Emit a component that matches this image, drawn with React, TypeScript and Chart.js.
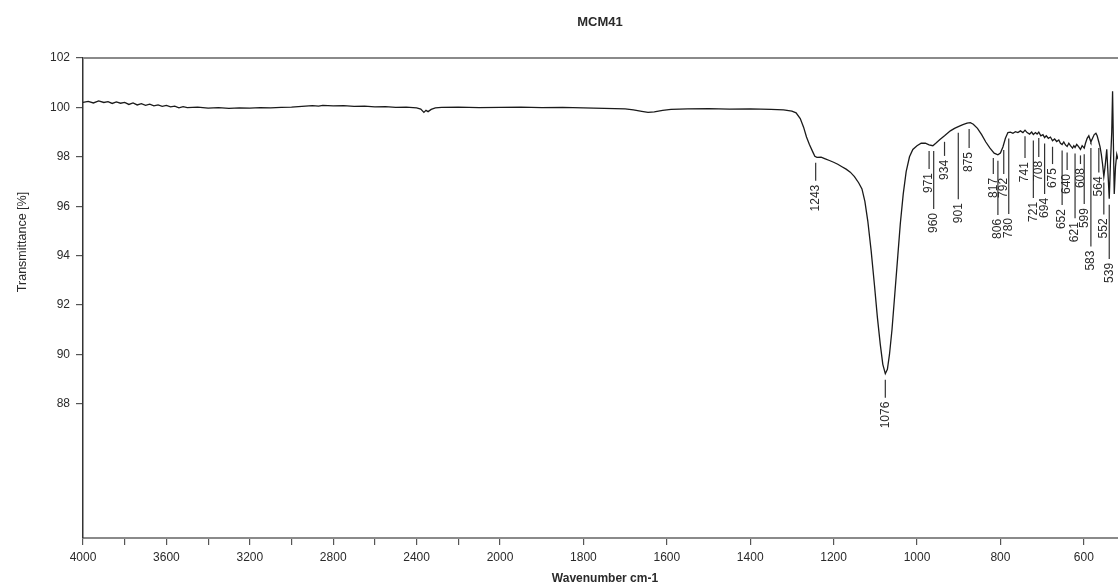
import React, { useEffect, useRef } from "react";
import { Chart, registerables } from "chart.js";

Chart.register(...registerables);

// ---- data ----
const wavenumbers = [
  4000, 3975, 3950, 3925, 3900, 3880, 3860, 3840, 3820, 3800, 3780, 3760, 3740, 3720, 3700, 3680, 3660, 3640, 3620, 3600,
  3580, 3560, 3540, 3520, 3500, 3450, 3400, 3350, 3300, 3250, 3200, 3150, 3100, 3050, 3000, 2950, 2900, 2870, 2850, 2800,
  2750, 2700, 2650, 2600, 2550, 2500, 2450, 2400, 2380, 2365, 2355, 2345, 2330, 2310, 2280, 2200, 2100, 2000, 1950, 1900,
  1850, 1800, 1750, 1700, 1680, 1660, 1645, 1630, 1610, 1590, 1550, 1500, 1450, 1400, 1350, 1320, 1300, 1290, 1280, 1272,
  1265, 1258, 1250, 1245, 1240, 1230, 1220, 1210, 1200, 1190, 1180, 1170, 1160, 1150, 1140, 1132, 1125, 1118, 1110, 1102,
  1095, 1088, 1082, 1076, 1071, 1066, 1060, 1053, 1046, 1040, 1033, 1026, 1018, 1010, 1000, 990, 980, 971, 962, 955,
  945, 934, 920, 910, 901, 890, 880, 872, 865, 855, 845, 835, 825, 815, 806, 800, 794, 788, 782, 776,
  770, 764, 758, 752, 746, 741, 736, 730, 725, 721, 716, 712, 708, 703, 698, 694, 690, 685, 680, 675,
  670, 665, 660, 656, 652, 648, 644, 640, 636, 632, 627, 624, 621, 617, 613, 608, 604, 599, 596, 592,
  588, 585, 583, 579, 575, 571, 568, 564, 561, 558, 555, 552, 549, 545, 541, 539, 536, 533, 531, 529,
  527, 524, 521, 518,
];
const transmittance = [
  100.2, 100.24, 100.18, 100.26, 100.2, 100.23, 100.16, 100.22, 100.17, 100.2, 100.12, 100.18, 100.1, 100.15, 100.08, 100.13, 100.06, 100.1, 100.04, 100.08,
  100.02, 100.05, 99.98, 100.03, 99.99, 100.01, 99.97, 99.99, 99.96, 99.98, 99.97, 99.99, 99.98, 100.0, 100.01, 100.04, 100.07, 100.05, 100.08, 100.06,
  100.07, 100.04, 100.05, 100.02, 100.03, 100.0, 100.01, 99.98, 99.93, 99.8, 99.88, 99.83, 99.92, 99.98, 100.0, 100.01, 99.99, 100.0, 100.01, 99.99,
  100.0, 99.98, 99.96, 99.94, 99.9, 99.84, 99.8, 99.82, 99.88, 99.92, 99.94, 99.95, 99.93, 99.94, 99.92, 99.9, 99.85, 99.78, 99.55, 99.2,
  98.8, 98.5, 98.2, 98.02, 97.98, 97.99, 97.92, 97.85, 97.78, 97.7, 97.6, 97.5, 97.38, 97.2, 96.95, 96.7, 96.2, 95.4, 94.2, 92.8,
  91.5, 90.4, 89.6, 89.22, 89.4, 90.0, 91.0, 92.5, 94.0, 95.3, 96.5, 97.4, 98.0, 98.3, 98.45, 98.55, 98.55, 98.48, 98.45, 98.55,
  98.7, 98.85, 99.05, 99.15, 99.22, 99.3, 99.36, 99.38, 99.32, 99.15, 98.9, 98.6, 98.35, 98.15, 98.08, 98.15, 98.4, 98.75, 98.98, 99.0,
  98.95, 99.02, 98.98, 99.05, 98.98, 99.08, 98.98, 98.92, 99.0, 98.9, 98.98, 98.92, 99.0, 98.85, 98.9, 98.78, 98.85, 98.75, 98.8, 98.65,
  98.72, 98.62, 98.68, 98.55, 98.5, 98.6, 98.48, 98.42, 98.55, 98.45, 98.35, 98.45, 98.38, 98.5, 98.42, 98.3, 98.45, 98.35, 98.55, 98.75,
  98.85, 98.7, 98.6, 98.75, 98.9, 98.95, 98.85, 98.6, 98.4, 98.1, 97.7, 97.2, 97.6, 98.3, 97.0, 96.3, 97.8, 99.0, 100.65, 98.5,
  96.5, 97.6, 98.1, 97.9,
];

const peakWavenumbers = [1243, 1076, 971, 960, 934, 901, 875, 817, 806, 792, 780, 741, 721, 708, 694, 675, 652, 640, 621, 608, 599, 583, 564, 552, 539];
// transmittance level at which each peak label's text is centred
const peakLabelLevel = [96.33, 87.55, 96.94, 95.32, 97.47, 95.72, 97.79, 96.74, 95.08, 96.74, 95.12, 97.38, 95.77, 97.43, 95.93, 97.14, 95.48, 96.9, 94.95, 97.14, 95.52, 93.8, 96.8, 95.1, 93.3];

const xTickValues = [4000, 3800, 3600, 3400, 3200, 3000, 2800, 2600, 2400, 2200, 2000, 1800, 1600, 1400, 1200, 1000, 800, 600];
const xTickLabels = [4000, 3600, 3200, 2800, 2400, 2000, 1800, 1600, 1400, 1200, 1000, 800, 600];
const yTickValues = [88, 90, 92, 94, 96, 98, 100, 102];

const chartTitle = "MCM41";
const xAxisTitle = "Wavenumber cm-1";
const yAxisTitle = "Transmittance [%]";

// axis scale is compressed by a factor 2 above 2000 cm-1
const toAxis = (w: number) => (w >= 2000 ? (4000 - w) / 2 : 1000 + (2000 - w));
const fromAxis = (u: number) => (u <= 1000 ? 4000 - 2 * u : 2000 - (u - 1000));

const curveAt = (w: number) => {
  for (let i = 0; i < wavenumbers.length - 1; i++) {
    const a = wavenumbers[i];
    const b = wavenumbers[i + 1];
    if (w <= a && w >= b) {
      const t = (a - w) / (a - b);
      return transmittance[i] + t * (transmittance[i + 1] - transmittance[i]);
    }
  }
  return transmittance[transmittance.length - 1];
};

const FONT = "'Liberation Sans', Arial, Helvetica, sans-serif";
const TEXT = "#2a2a2a";

const decorPlugin = {
  id: "decor",
  afterDraw(chart: any) {
    const { ctx, chartArea, scales } = chart;
    const xs = scales.x;
    const ys = scales.y;
    ctx.save();
    // top frame line
    ctx.strokeStyle = "#8a8a8a";
    ctx.lineWidth = 2;
    ctx.beginPath();
    ctx.moveTo(chartArea.left, chartArea.top);
    ctx.lineTo(chartArea.right, chartArea.top);
    ctx.stroke();

    // titles
    ctx.fillStyle = TEXT;
    ctx.textAlign = "center";
    ctx.textBaseline = "middle";
    ctx.font = `bold 13px ${FONT}`;
    ctx.fillText(chartTitle, 600, 22);
    ctx.font = `bold 12px ${FONT}`;
    ctx.fillText(xAxisTitle, 605, 579);
    ctx.save();
    ctx.translate(23, 242);
    ctx.rotate(-Math.PI / 2);
    ctx.font = `12.5px ${FONT}`;
    ctx.fillText(yAxisTitle, 0, 0);
    ctx.restore();

    // peak labels
    ctx.font = `12px ${FONT}`;
    ctx.strokeStyle = "#333";
    ctx.lineWidth = 1.2;
    peakWavenumbers.forEach((w, i) => {
      const px = xs.getPixelForValue(toAxis(w));
      const cy = ys.getPixelForValue(curveAt(w));
      const ty = ys.getPixelForValue(peakLabelLevel[i]);
      const label = String(w);
      const half = ctx.measureText(label).width / 2;
      const lineTop = cy + 6;
      const lineBottom = ty - half - 4;
      if (lineBottom > lineTop) {
        ctx.beginPath();
        ctx.moveTo(px, lineTop);
        ctx.lineTo(px, lineBottom);
        ctx.stroke();
      }
      ctx.save();
      ctx.translate(px, ty);
      ctx.rotate(-Math.PI / 2);
      ctx.fillStyle = TEXT;
      ctx.fillText(label, 0, 0);
      ctx.restore();
    });
    ctx.restore();
  },
};

export default function App() {
  const ref = useRef<HTMLCanvasElement | null>(null);
  useEffect(() => {
    document.body.style.margin = "0";
    const canvas = ref.current;
    if (!canvas) return;
    const chart = new Chart(canvas, {
      type: "line",
      data: {
        datasets: [
          {
            data: wavenumbers.map((w, i) => ({ x: toAxis(w), y: transmittance[i] })),
            borderColor: "#1a1a1a",
            borderWidth: 1.3,
            pointRadius: 0,
            tension: 0,
            fill: false,
          },
        ],
      },
      options: {
        animation: false,
        responsive: false,
        maintainAspectRatio: false,
        layout: { padding: { top: 58, left: 0, right: 0, bottom: 0 } },
        plugins: { legend: { display: false }, tooltip: { enabled: false }, title: { display: false } },
        scales: {
          x: {
            type: "linear",
            min: 0,
            max: toAxis(518),
            afterBuildTicks: (s: any) => {
              s.ticks = xTickValues.map((w) => ({ value: toAxis(w) }));
            },
            afterFit: (s: any) => {
              s.height = 46;
            },
            ticks: {
              autoSkip: false,
              maxRotation: 0,
              padding: 5,
              color: TEXT,
              font: { size: 12, family: FONT },
              callback: (v: any) => {
                const w = Math.round(fromAxis(Number(v)));
                return xTickLabels.includes(w) ? String(w) : "";
              },
            },
            grid: { drawOnChartArea: false, drawTicks: true, tickLength: 7, color: "#555", lineWidth: 1.2 },
            border: { display: true, color: "#8a8a8a", width: 2 },
          },
          y: {
            type: "linear",
            min: 82.57,
            max: 102,
            afterBuildTicks: (s: any) => {
              s.ticks = yTickValues.map((v) => ({ value: v }));
            },
            afterFit: (s: any) => {
              s.width = 83;
            },
            ticks: {
              padding: 6,
              color: TEXT,
              font: { size: 12, family: FONT },
            },
            grid: { drawOnChartArea: false, drawTicks: true, tickLength: 7, color: "#555", lineWidth: 1.2 },
            border: { display: true, color: "#333", width: 1.5 },
          },
        },
      },
      plugins: [decorPlugin],
    });
    return () => chart.destroy();
  }, []);
  return (
    <div style={{ width: 1118, height: 584 }}>
      <canvas ref={ref} width={1118} height={584} style={{ display: "block" }} />
    </div>
  );
}
